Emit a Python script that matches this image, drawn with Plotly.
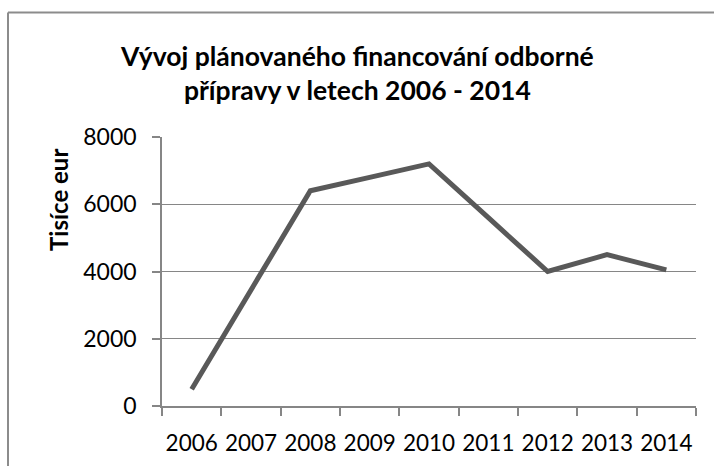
import plotly.graph_objects as go

years = ["2006", "2007", "2008", "2009", "2010", "2011", "2012", "2013", "2014"]
values = [500, 3450, 6400, 6800, 7200, 5600, 4000, 4500, 4050]
y_ticks = [0, 2000, 4000, 6000, 8000]

title_text = "Vývoj plánovaného financování odborné<br>přípravy v letech 2006 - 2014"
y_title = "Tisíce eur"

FONT = "Lato"
GRID = "#868686"

W, H = 714, 466
L, R, T, B = 162, 18, 137, 60

fig = go.Figure()
fig.add_trace(go.Scatter(
    x=years, y=values, mode="lines",
    line=dict(color="#595959", width=5),
    showlegend=False, hoverinfo="x+y",
))

fig.update_layout(
    width=W, height=H,
    margin=dict(l=L, r=R, t=T, b=B, autoexpand=False),
    paper_bgcolor="white", plot_bgcolor="white",
    font=dict(family=FONT, size=23, color="black"),
    xaxis=dict(
        type="category", tickson="boundaries", range=[-0.5, 8.5],
        showline=True, linecolor=GRID, linewidth=1.5,
        ticks="outside", ticklen=8, tickcolor=GRID, tickwidth=1.5,
        showgrid=False, ticklabelstandoff=16, automargin=False,
        tickangle=0,
        tickfont=dict(family=FONT, size=22.5, color="black"),
    ),
    yaxis=dict(
        range=[0, 8000], tickvals=y_ticks,
        showline=True, linecolor=GRID, linewidth=1.5,
        ticks="outside", ticklen=8, tickcolor=GRID, tickwidth=1.5,
        showgrid=True, gridcolor=GRID, gridwidth=1.2,
        zeroline=False, ticklabelstandoff=11, automargin=False,
        tickfont=dict(family=FONT, size=23, color="black"),
    ),
)

plot_w = W - L - R
plot_h = H - T - B

def px_to_paper_x(px):
    return (px - L) / plot_w

def px_to_paper_y(py):
    return (H - B - py) / plot_h

fig.add_annotation(
    text=title_text, showarrow=False, align="center",
    xref="paper", yref="paper",
    x=px_to_paper_x(357), y=px_to_paper_y(38),
    xanchor="center", yanchor="top",
    font=dict(family=FONT, size=26.5, color="black", weight="bold"),
)

fig.add_annotation(
    text=y_title, textangle=-90, showarrow=False,
    xref="paper", yref="paper",
    x=px_to_paper_x(58), y=px_to_paper_y(200),
    xanchor="center", yanchor="middle",
    font=dict(family=FONT, size=24, color="black", weight="bold"),
)

# chart area border (left and top edges visible)
fig.add_shape(type="line", xref="paper", yref="paper",
              x0=px_to_paper_x(8), x1=px_to_paper_x(8),
              y0=px_to_paper_y(12.5), y1=px_to_paper_y(480),
              line=dict(color="#8c8c8c", width=2))
fig.add_shape(type="line", xref="paper", yref="paper",
              x0=px_to_paper_x(8), x1=px_to_paper_x(730),
              y0=px_to_paper_y(12.5), y1=px_to_paper_y(12.5),
              line=dict(color="#8c8c8c", width=2))

fig.write_html("out.html", config={"displayModeBar": False},
               post_script="document.body.style.margin='0';")
